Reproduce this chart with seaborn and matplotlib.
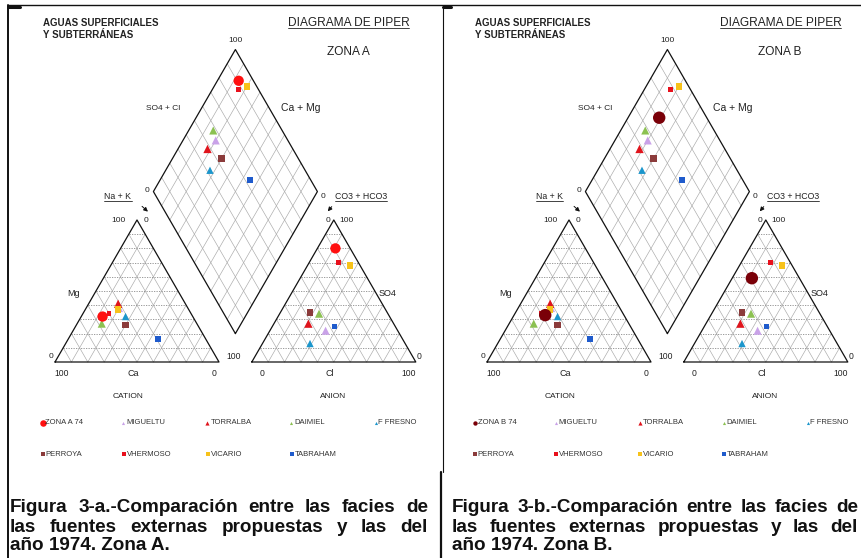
import numpy as np
import pandas as pd
import matplotlib
matplotlib.use("Agg")
import matplotlib.pyplot as plt
from matplotlib.lines import Line2D
import seaborn as sns

# Muestras de las fuentes externas (% meq/l), iguales en las dos zonas
muestras = ['MIGUELTU', 'TORRALBA', 'DAIMIEL', 'F FRESNO', 'PERROYA',
            'VHERMOSO', 'VICARIO', 'TABRAHAM']
mg = [38, 41, 27, 32, 26, 34, 37, 16]
na_k = [20, 18, 15, 27, 30, 16, 20, 55]
so4 = [22, 27, 34, 13, 35, 70, 68, 25]
cl = [34, 21, 24, 29, 18, 18, 26, 38]

# Agua de 1974 de cada zona
zonas = ['ZONA A 74', 'ZONA B 74']
zona_mg = [32, 33]
zona_na_k = [13, 19]
zona_so4 = [80, 59]
zona_cl = [11, 12]

colores = {'ZONA A 74': '#ff1010', 'ZONA B 74': '#7a0008',
           'MIGUELTU': '#c9a2e8', 'TORRALBA': '#e0141c', 'DAIMIEL': '#8cc152',
           'F FRESNO': '#1b96cc', 'PERROYA': '#8b3b3b', 'VHERMOSO': '#e8101c',
           'VICARIO': '#f7c21a', 'TABRAHAM': '#1f5bcc'}
marcas = {'ZONA A 74': 'o', 'ZONA B 74': 'o', 'MIGUELTU': '^', 'TORRALBA': '^',
          'DAIMIEL': '^', 'F FRESNO': '^', 'PERROYA': 's', 'VHERMOSO': 's',
          'VICARIO': 's', 'TABRAHAM': 's'}
tam = {'ZONA A 74': 55, 'ZONA B 74': 80, 'MIGUELTU': 34, 'TORRALBA': 36,
       'DAIMIEL': 34, 'F FRESNO': 28, 'PERROYA': 24, 'VHERMOSO': 11,
       'VICARIO': 20, 'TABRAHAM': 17}
tam_ley = {'ZONA A 74': 22, 'ZONA B 74': 10, 'MIGUELTU': 5, 'TORRALBA': 9,
           'DAIMIEL': 5, 'F FRESNO': 5, 'PERROYA': 7, 'VHERMOSO': 11,
           'VICARIO': 7, 'TABRAHAM': 7}

R3 = np.sqrt(3) / 2
GAP = 0.2
W, H = 861, 558
ESC = 164.0
OX, OY = 55.0, 362.0
TXT = '#222222'

sns.set_theme(style='white')
plt.rcParams['font.family'] = ['Liberation Sans', 'DejaVu Sans']


def cation_xy(m, n):
    m = np.asarray(m) / 100
    n = np.asarray(n) / 100
    return n + m / 2, m * R3


def anion_xy(s, c):
    s = np.asarray(s) / 100
    c = np.asarray(c) / 100
    return 1 + GAP + c + s / 2, s * R3


def diamond_xy(m, n, s, c):
    xc, yc = cation_xy(m, n)
    xa, ya = anion_xy(s, c)
    t = (xa - xc) + (ya - yc) / (2 * R3)
    return xc + t / 2, yc + t * R3


def P(xp, yp):
    return (xp - OX) / ESC, (OY - yp) / ESC


fig = plt.figure(figsize=(W / 100, H / 100), dpi=100)
fig.patch.set_facecolor('white')
rend = fig.canvas.get_renderer()


def underline(ax, t):
    bb = t.get_window_extent(renderer=rend)
    inv = ax.transData.inverted()
    (x0, y0), (x1, _) = inv.transform([[bb.x0, bb.y0], [bb.x1, bb.y1]])
    ax.plot([x0, x1], [y0 + 0.004, y0 + 0.004], color=TXT, lw=0.6)


def draw_grid(ax):
    gl = dict(color='#a8a8a8', lw=0.45)
    hl = dict(color='#8a8a8a', lw=0.6, ls=(0, (1.5, 1.5)))
    for off in (0, 1 + GAP):
        for i in range(1, 10):
            f = i / 10
            ax.plot([off + f / 2, off + 1 - f / 2], [f * R3, f * R3], **hl)
            ax.plot([off + f, off + f + (1 - f) / 2], [0, (1 - f) * R3], **gl)
            ax.plot([off + f, off + f / 2], [0, f * R3], **gl)
        ax.plot([off, off + 1, off + 0.5, off], [0, 0, R3, 0], color='#111', lw=0.9)
    B = np.array([1 + GAP / 2, GAP * R3])
    L = B + np.array([-0.5, R3])
    Rt = B + np.array([0.5, R3])
    T = B + np.array([0, 2 * R3])
    for i in range(1, 10):
        f = i / 10
        p1, p2 = B + f * (L - B), Rt + f * (T - Rt)
        q1, q2 = B + f * (Rt - B), L + f * (T - L)
        ax.plot([p1[0], p2[0]], [p1[1], p2[1]], **gl)
        ax.plot([q1[0], q2[0]], [q1[1], q2[1]], **gl)
    d = np.array([B, L, T, Rt, B])
    ax.plot(d[:, 0], d[:, 1], color='#111', lw=0.9)


etiquetas = [('100', 235, 40, 6), ('SO4 + Cl', 163.5, 108, 6),
             ('Ca + Mg', 300.5, 108, 7.5), ('0', 146.7, 191, 6),
             ('100', 118.3, 220, 6), ('0', 145.7, 220, 6),
             ('0', 322.7, 196.7, 6), ('0', 328.3, 220, 6), ('100', 346.7, 220, 6),
             ('Mg', 73.3, 293.3, 6.5), ('0', 51, 356.7, 6), ('100', 233.3, 356.7, 6.2),
             ('0', 419.3, 356.7, 6.2), ('SO4', 387.3, 294, 6.5),
             ('100', 61.7, 374, 6.2), ('Ca', 133.3, 374, 6.5), ('0', 214.3, 374, 6.2),
             ('0', 262.3, 374, 6.2), ('Cl', 330, 374, 6.5), ('100', 408.3, 374, 6.2),
             ('CATION', 128, 396.7, 6), ('ANION', 333.3, 396, 6)]

ley_pos = {'ZONA': (42.7, 423), 'MIGUELTU': (123.5, 423), 'TORRALBA': (207.5, 423),
           'DAIMIEL': (291.5, 423), 'F FRESNO': (375.7, 423),
           'PERROYA': (42.7, 454), 'VHERMOSO': (124.3, 454), 'VICARIO': (208, 454),
           'TABRAHAM': (291.7, 454)}


def panel(x0, k):
    ax = fig.add_axes([(8 + x0) / W, 1 - 470 / H, 432 / W, 465 / H])
    ax.set_xlim((8 - OX) / ESC, (440 - OX) / ESC)
    ax.set_ylim((OY - 470) / ESC, (OY - 5) / ESC)
    draw_grid(ax)

    nombres = muestras + [zonas[k]]
    m = mg + [zona_mg[k]]
    n = na_k + [zona_na_k[k]]
    s = so4 + [zona_so4[k]]
    c = cl + [zona_cl[k]]
    partes = []
    for fx, fy in (cation_xy(m, n), anion_xy(s, c), diamond_xy(m, n, s, c)):
        partes.append(pd.DataFrame({'x': fx, 'y': fy, 'muestra': nombres}))
    df = pd.concat(partes, ignore_index=True)
    sns.scatterplot(data=df, x='x', y='y', hue='muestra', style='muestra',
                    size='muestra', palette={q: colores[q] for q in nombres},
                    markers={q: marcas[q] for q in nombres},
                    sizes={q: tam[q] for q in nombres},
                    linewidth=0, legend=False, ax=ax, zorder=5)
    ax.axis('off')

    for txt, xp, yp, fs in etiquetas:
        ax.text(*P(xp, yp), txt, fontsize=fs, ha='center', va='center', color=TXT)
    for txt, xp, yp in (('Na + K', 118, 196.7), ('CO3 + HCO3', 361, 196.7)):
        t = ax.text(*P(xp, yp), txt, fontsize=6.3, ha='center', va='center', color=TXT)
        underline(ax, t)
    ax.annotate('', xy=P(150, 213.5), xytext=P(140, 204.5),
                arrowprops=dict(arrowstyle='-|>', color='#111', lw=0.7, mutation_scale=6))
    ax.annotate('', xy=P(326, 213.5), xytext=P(333.5, 204.5),
                arrowprops=dict(arrowstyle='-|>', color='#111', lw=0.7, mutation_scale=6))

    ax.text(*P(43, 22.7), 'AGUAS SUPERFICIALES', fontsize=7, fontweight='bold',
            ha='left', va='center', color=TXT)
    ax.text(*P(43, 34.5), 'Y SUBTERRÁNEAS', fontsize=7, fontweight='bold',
            ha='left', va='center', color=TXT)
    t = ax.text(*P(348.5, 22.7), 'DIAGRAMA DE PIPER', fontsize=8.6,
                ha='center', va='center', color=TXT)
    underline(ax, t)
    ax.text(*P(348, 51.7), 'ZONA A' if k == 0 else 'ZONA B', fontsize=8.6,
            ha='center', va='center', color=TXT)

    # leyenda
    for q in nombres:
        key = 'ZONA' if q.startswith('ZONA') else q
        xp, yp = ley_pos[key]
        ax.scatter(*P(xp, yp), s=tam_ley[q], marker=marcas[q], color=colores[q],
                   linewidths=0)
        ax.text(*P(xp + 2.8, yp), q, fontsize=5.5, ha='left', va='center', color='#333')
    return ax


panel(0, 0)
panel(432, 1)


def caption(lines, x0, x1, fs=13.6):
    for j, line in enumerate(lines):
        y = 1 - (508 + 19 * j) / H
        if j == len(lines) - 1:
            fig.text(x0 / W, y, line, fontsize=fs, fontweight='bold', va='center',
                     color='#111')
            continue
        words = line.split()
        ts = [fig.text(0, y, w, fontsize=fs, fontweight='bold', va='center',
                       color='#111') for w in words]
        wd = [t.get_window_extent(renderer=rend).width for t in ts]
        gap = (x1 - x0 - sum(wd)) / (len(words) - 1)
        x = x0
        for t, w in zip(ts, wd):
            t.set_x(x / W)
            x += w + gap


caption(['Figura 3-a.-Comparación entre las facies de',
         'las fuentes externas propuestas y las del',
         'año 1974. Zona A.'], 10, 428)
caption(['Figura 3-b.-Comparación entre las facies de',
         'las fuentes externas propuestas y las del',
         'año 1974. Zona B.'], 452, 858)

# marco
for xs, ys, lw in (([8, 8], [5, 558], 1.4), ([8, 861], [5, 5], 1.0),
                   ([442.5, 442.5], [5, 472], 0.8), ([441, 441], [472, 558], 1.6),
                   ([8, 20], [6.5, 6.5], 2.2), ([443, 451], [6.5, 6.5], 2.2)):
    fig.add_artist(Line2D([x / W for x in xs], [1 - y / H for y in ys],
                          color='#111', lw=lw, transform=fig.transFigure))

fig.savefig('out.png', dpi=100, facecolor='white')
